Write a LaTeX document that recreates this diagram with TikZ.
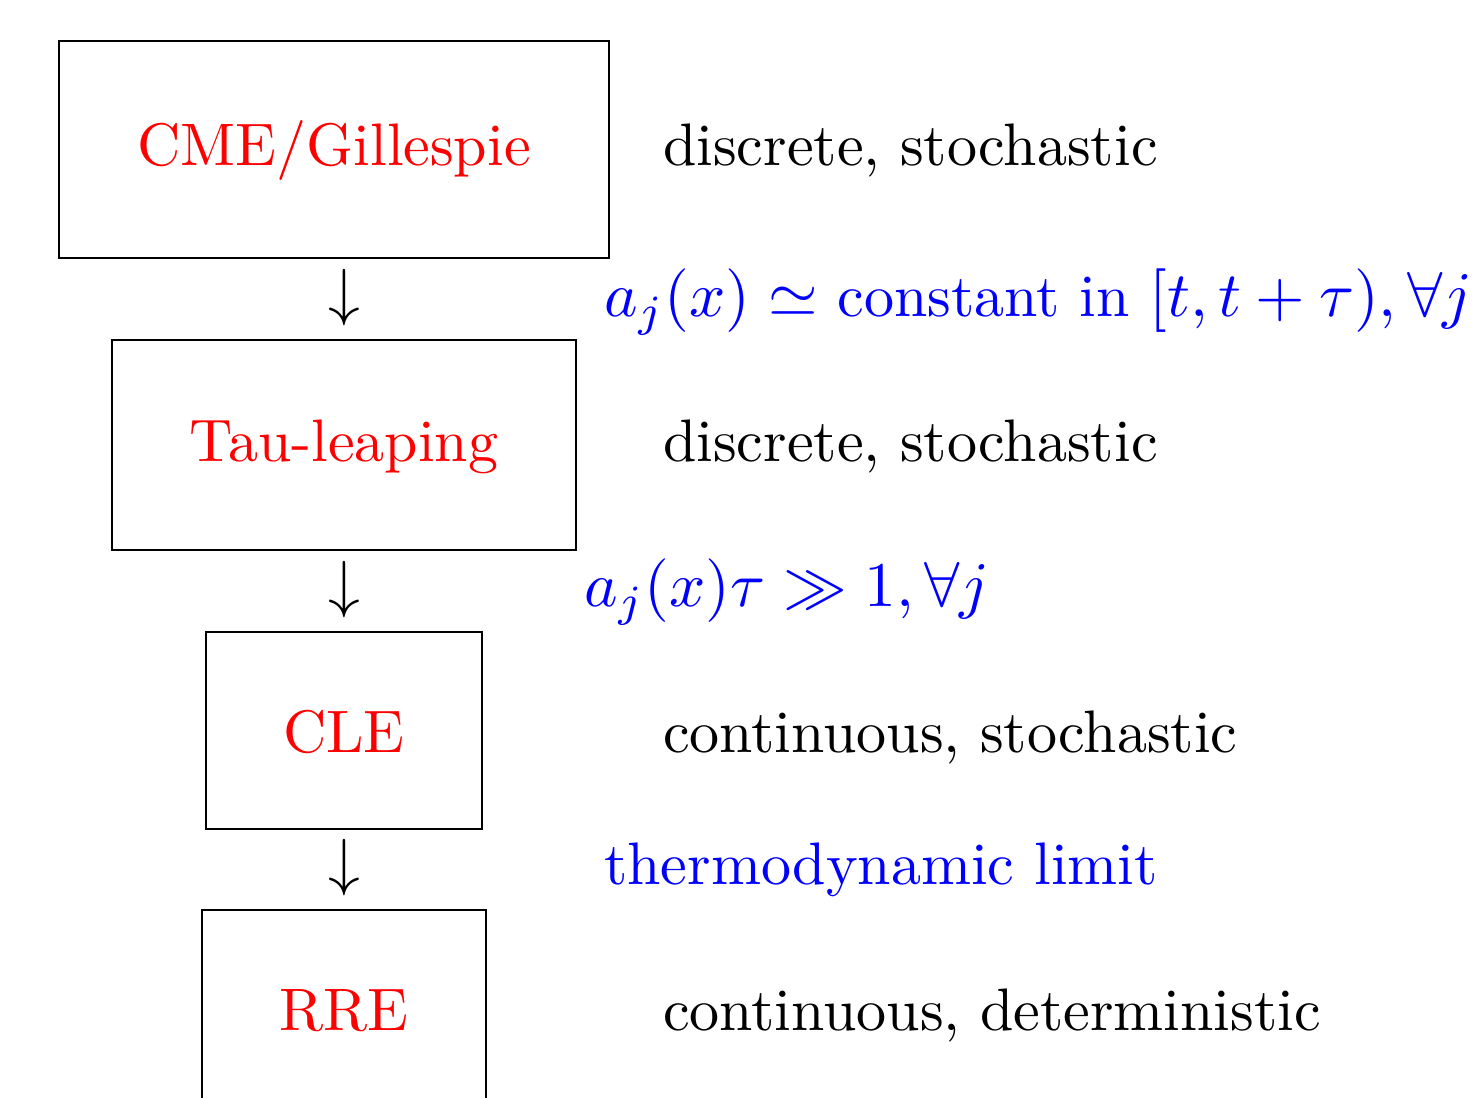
\documentclass[tikz,border=0pt]{standalone}
\usepackage{amsmath}
\usepackage{graphicx}
\newcommand\mathbig[1]{\scalebox{1.06}{$#1$}}
\begin{document}
\begin{tikzpicture}[x=0.16667pt,y=-0.16667pt,
  box/.style={draw,line width=0.3pt},
  lbl/.style={anchor=base,text=red,inner sep=0pt},
  desc/.style={anchor=base west,inner sep=0pt},
  cond/.style={anchor=base west,inner sep=0pt,text=blue},
  arr/.style={anchor=base,inner sep=0pt}]
\useasboundingbox (0,0) rectangle (1478,1098);
\clip (0,0) rectangle (1478,1098);
\draw[box] (59,41) rectangle (609,258);
\draw[box] (112,340) rectangle (576,550);
\draw[box] (206,632) rectangle (482,829);
\draw[box] (202,910) rectangle (486,1140);
\node[lbl] (cme) at (334,166) {CME/Gillespie};
\node[lbl] (tau) at (344,462) {Tau-leaping};
\node[lbl] (cle) at (344,752) {CLE};
\node[lbl] (rre) at (344,1030) {RRE};
\node[arr] (a1) at (344,314) {\mathbig{\downarrow}};
\node[arr] (a2) at (344,606) {\mathbig{\downarrow}};
\node[arr] (a3) at (344,884) {\mathbig{\downarrow}};
\node[desc] (d1) at (662,166) {discrete, stochastic};
\node[desc] (d2) at (662,462) {discrete, stochastic};
\node[desc] (d3) at (662,752) {continuous, stochastic};
\node[desc] (d4) at (662,1030) {continuous, deterministic};
\node[cond] (c1) at (603,317) {\mathbig{a_j(x) \simeq} constant in \mathbig{[t,t+\tau), \forall j}};
\node[cond] (c2) at (583,607) {\mathbig{a_j(x)\tau \gg 1, \forall j}};
\node[cond] (c3) at (603,885) {thermodynamic limit};
\end{tikzpicture}
\end{document}
